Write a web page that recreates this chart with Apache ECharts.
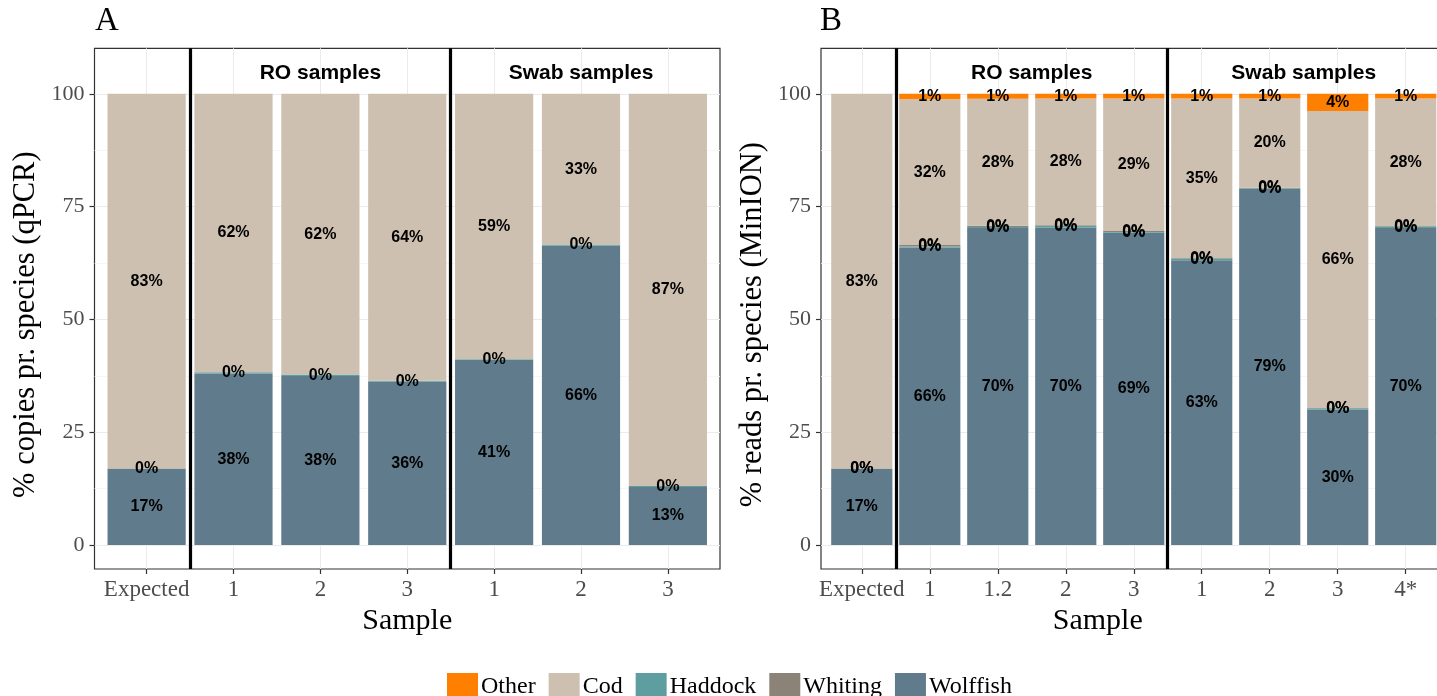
<!DOCTYPE html>
<html>
<head>
<meta charset="utf-8">
<script src="https://cdn.jsdelivr.net/npm/echarts@6/dist/echarts.min.js"></script>
<style>html,body{margin:0;padding:0;background:#fff}#c{width:1437px;height:696px}</style>
</head>
<body>
<div id="c"></div>
<script>
// ---------- data ----------
const catsA = ['Expected', '1', '2', '3', '1', '2', '3'];
const wolffishA = [17, 38.0, 37.5, 36.2, 41.0, 66.4, 12.9];
const haddockA = [0, 0.3, 0.3, 0.2, 0.2, 0.2, 0.2];
const codA = [83, 61.7, 62.2, 63.6, 58.8, 33.4, 86.9];

const catsB = ['Expected', '1', '1.2', '2', '3', '1', '2', '3', '4*'];
const wolffishB = [17, 65.9, 70.3, 70.4, 69.2, 63.1, 78.9, 30.0, 70.3];
const haddockB = [0, 0.3, 0.2, 0.3, 0.2, 0.4, 0.2, 0.3, 0.3];
const whitingB = [0, 0.3, 0.3, 0.2, 0.2, 0.1, 0.1, 0.1, 0.1];
const codB = [83, 32.3, 28.1, 28.1, 29.4, 35.4, 19.8, 65.8, 28.3];
const otherB = [null, 1.2, 1.1, 1.0, 1.0, 1.0, 1.0, 3.8, 1.0];

const yTicks = [0, 25, 50, 75, 100];
const yMinor = [12.5, 37.5, 62.5, 87.5];
const separatorsA = [0.5, 3.5];
const separatorsB = [0.5, 4.5];
const stripA = [{ text: 'RO samples', x: 2 }, { text: 'Swab samples', x: 5 }];
const stripB = [{ text: 'RO samples', x: 2.5 }, { text: 'Swab samples', x: 6.5 }];
const stripY = 104.5;
const legendNames = ['Other', 'Cod', 'Haddock', 'Whiting', 'Wolffish'];

// ---------- style / layout ----------
const COLORS = { Other: '#FF7F00', Cod: '#CDC0B0', Haddock: '#5F9EA0', Whiting: '#8B8378', Wolffish: '#607B8B' };
const SERIF = 'Liberation Serif';
const SANS = 'Liberation Sans';
const YMIN = -5.3, YMAX = 110.1;
const EXPAND = 0.6; // ggplot discrete expansion (in category units)
const PANEL_W = 625.5, PANEL_TOP = 48.3, PANEL_H = 520.7;
const PANEL_LEFT = [94.5, 821];
const XNAME_PAD = [[0, 0, 0, 0], [0, 72, 0, 0]];

const chart = echarts.init(document.getElementById('c'), null, { renderer: 'canvas' });

function panel(p, cats, yTitle) {
  const n = cats.length;
  const unit = PANEL_W / (n - 1 + 2 * EXPAND);
  const outerG = p * 2, innerG = p * 2 + 1;
  const idx = cats.map((_, i) => i);
  const grids = [
    { left: PANEL_LEFT[p], top: PANEL_TOP, width: PANEL_W, height: PANEL_H, show: true, borderColor: '#333', borderWidth: 1.2, backgroundColor: 'transparent', outerBoundsMode: 'none', containLabel: false },
    { left: PANEL_LEFT[p] + (EXPAND - 0.5) * unit, top: PANEL_TOP, width: n * unit, height: PANEL_H, show: false, outerBoundsMode: 'none', containLabel: false }
  ];
  const xAxes = [{
    type: 'value', gridIndex: outerG, min: -EXPAND, max: n - 1 + EXPAND,
    name: 'Sample', nameLocation: 'middle', nameGap: 36,
    nameTextStyle: { fontFamily: SERIF, fontSize: 30, color: '#000', padding: XNAME_PAD[p] },
    axisLine: { show: false, onZero: false },
    axisTick: { show: true, length: 5, customValues: idx, lineStyle: { color: '#333', width: 1.2 } },
    axisLabel: { customValues: idx, formatter: v => cats[Math.round(v)], fontFamily: SERIF, fontSize: 23, color: '#4D4D4D', margin: 9 },
    splitLine: { show: true, lineStyle: { color: '#EBEBEB', width: 1 } }
  }, {
    type: 'category', gridIndex: innerG, data: cats, boundaryGap: true,
    axisLine: { show: false, onZero: false }, axisTick: { show: false }, axisLabel: { show: false }, splitLine: { show: false }
  }];
  const yAxes = [{
    type: 'value', gridIndex: outerG, min: YMIN, max: YMAX,
    name: yTitle, nameLocation: 'middle', nameGap: 53,
    nameTextStyle: { fontFamily: SERIF, fontSize: 30.5, color: '#000', padding: [0, 32, 0, 0] },
    axisLine: { show: false, onZero: false },
    axisTick: { show: true, length: 5, customValues: yTicks, lineStyle: { color: '#333', width: 1.2 } },
    axisLabel: { customValues: yTicks, fontFamily: SERIF, fontSize: 22, color: '#4D4D4D', margin: 10 },
    splitLine: { show: true, lineStyle: { color: '#EBEBEB', width: 1 } }
  }, {
    type: 'value', gridIndex: outerG, min: YMIN, max: YMAX, position: 'left',
    axisLine: { show: false, onZero: false },
    axisTick: { show: false, customValues: yMinor },
    axisLabel: { show: false, customValues: yMinor },
    splitLine: { show: true, lineStyle: { color: '#F4F4F4', width: 0.8 } }
  }, {
    type: 'value', gridIndex: innerG, min: YMIN, max: YMAX,
    axisLine: { show: false, onZero: false }, axisTick: { show: false }, axisLabel: { show: false }, splitLine: { show: false }
  }];
  return { grids, xAxes, yAxes };
}

const labelStyle = {
  show: true, position: 'inside', fontFamily: SANS, fontWeight: 'bold', fontSize: 16, color: '#000',
  formatter: p => {
    const v = p.value;
    return (typeof v === 'number' && !isNaN(v)) ? Math.round(v) + '%' : '';
  }
};

function barSeries(name, values, p) {
  return {
    type: 'bar', name, xAxisIndex: p * 2 + 1, yAxisIndex: p * 3 + 2,
    stack: 'panel' + p, barWidth: '90%',
    itemStyle: { color: COLORS[name] },
    label: labelStyle, labelLayout: { hideOverlap: false },
    emphasis: { disabled: true },
    data: values.map(v => (v == null ? '-' : v))
  };
}

function decorSeries(p, seps, strips) {
  return {
    type: 'scatter', name: '_decor' + p, xAxisIndex: p * 2, yAxisIndex: p * 3,
    data: [], silent: true, z: 10,
    markLine: {
      silent: true, symbol: 'none', label: { show: false },
      lineStyle: { color: '#000', width: 3.2, type: 'solid' },
      data: seps.map(x => ({ xAxis: x }))
    },
    markPoint: {
      silent: true, symbol: 'circle', symbolSize: 1, itemStyle: { color: 'rgba(0,0,0,0)' },
      label: { show: true, position: 'inside', fontFamily: SANS, fontWeight: 'bold', fontSize: 21, color: '#000', formatter: q => q.name },
      data: strips.map(s => ({ name: s.text, coord: [s.x, stripY] }))
    }
  };
}

const pA = panel(0, catsA, '% copies pr. species (qPCR)');
const pB = panel(1, catsB, '% reads pr. species (MinION)');

const option = {
  animation: false,
  backgroundColor: '#fff',
  grid: pA.grids.concat(pB.grids),
  xAxis: pA.xAxes.concat(pB.xAxes),
  yAxis: pA.yAxes.concat(pB.yAxes),
  legend: {
    data: legendNames, top: 668, left: 442, icon: 'rect',
    itemWidth: 31, itemHeight: 28, itemGap: 13,
    textStyle: { fontFamily: SERIF, fontSize: 24, color: '#000', padding: [0, 0, 0, -2] }
  },
  graphic: [
    { type: 'text', left: 95, top: 5, style: { text: 'A', font: '33px "Liberation Serif"', fill: '#000' } },
    { type: 'text', left: 820, top: 5, style: { text: 'B', font: '33px "Liberation Serif"', fill: '#000' } }
  ],
  series: [
    barSeries('Wolffish', wolffishA, 0),
    barSeries('Haddock', haddockA, 0),
    barSeries('Cod', codA, 0),
    barSeries('Wolffish', wolffishB, 1),
    barSeries('Haddock', haddockB, 1),
    barSeries('Whiting', whitingB, 1),
    barSeries('Cod', codB, 1),
    barSeries('Other', otherB, 1),
    decorSeries(0, separatorsA, stripA),
    decorSeries(1, separatorsB, stripB)
  ]
};
chart.setOption(option);
</script>
</body>
</html>
